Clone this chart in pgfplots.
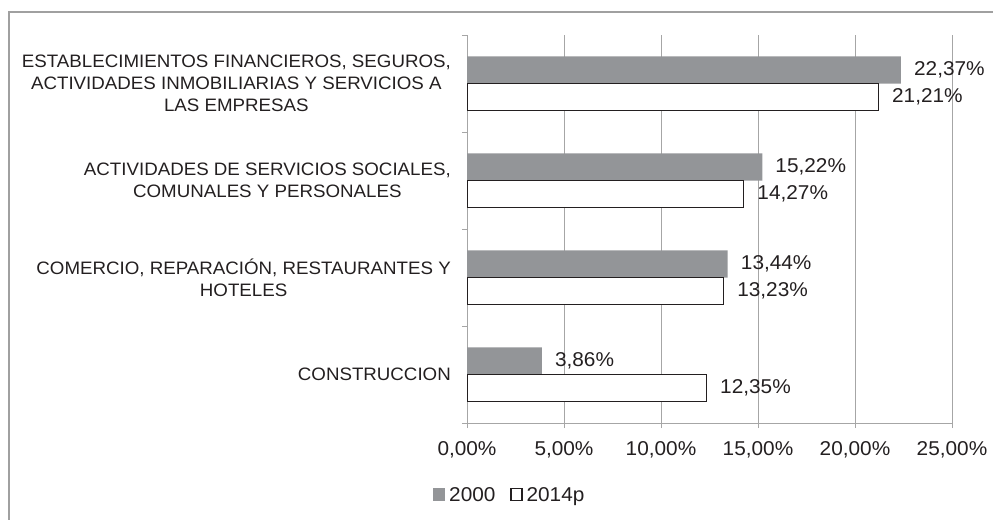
\documentclass[border=0pt]{standalone}
\usepackage{pgfplots}
\pgfplotsset{compat=1.18}
\usepackage{fontspec}
\setmainfont{Liberation Sans}[FakeStretch=1.04]
\definecolor{gridc}{HTML}{A6A6A6}
\definecolor{barc}{HTML}{939598}
\definecolor{edgec}{HTML}{231F20}
\definecolor{framec}{HTML}{A0A0A0}
\definecolor{txt}{HTML}{231F20}
\newcommand\bigf{\fontsize{20bp}{24bp}\selectfont}
\begin{document}
\begin{tikzpicture}[font=\fontsize{18bp}{22bp}\selectfont]
\useasboundingbox (0bp,0bp) rectangle (993bp,-520bp);
\draw[framec, line width=1.5bp] (9bp,-520bp) -- (9bp,-12bp) -- (993bp,-12bp);
\begin{axis}[
  at={(467bp,-423bp)}, anchor=south west,
  scale only axis, width=485bp, height=388bp,
  xmin=0, xmax=25, ymin=-0.5, ymax=3.5,
  xbar, bar width=0.28,
  axis x line*=bottom, axis y line*=left,
  axis line style={draw=gridc, line width=1bp, -},
  xtick={0,5,10,15,20,25},
  xticklabels={{0,00\%},{5,00\%},{10,00\%},{15,00\%},{20,00\%},{25,00\%}},
  xmajorgrids, grid style={gridc, line width=1bp},
  tick align=outside, major tick length=5bp, minor tick length=5bp,
  x tick style={draw=gridc, line width=1bp},
  ytick={0,1,2,3},
  yticklabels={{CONSTRUCCION},{COMERCIO, REPARACIÓN, RESTAURANTES Y\\HOTELES},{ACTIVIDADES DE SERVICIOS SOCIALES,\\COMUNALES Y PERSONALES},{ESTABLECIMIENTOS FINANCIEROS, SEGUROS,\\ACTIVIDADES INMOBILIARIAS Y SERVICIOS A\\LAS EMPRESAS}},
  minor ytick={-0.5,0.5,1.5,2.5,3.5},
  major y tick style={draw=none},
  minor y tick style={draw=gridc, line width=1bp},
  yticklabel style={align=center, inner sep=0pt, anchor=east, xshift=-11bp, text=txt},
  xticklabel style={inner sep=0pt, anchor=base, yshift=-27bp, text=txt, font=\bigf},
  /pgf/number format/assume math mode=true,
  point meta=explicit symbolic,
  nodes near coords,
  every node near coord/.append style={anchor=west, inner sep=0pt, xshift=13bp, text=txt, font=\bigf},
  legend columns=-1,
  legend style={draw=none, fill=none, at={(rel axis cs:-0.0701,-0.185)}, anchor=west, inner sep=0pt,
    /tikz/every even column/.append style={column sep=15bp},
    nodes={inner sep=0pt, text=txt}, font=\bigf},
]
\addplot[xbar, bar shift=0.14, fill=barc, draw=none,
  legend image code/.code={\fill[barc] (0bp,-6.5bp) rectangle (12bp,6.5bp);}]
  coordinates {(3.86,0) [3,86\%] (13.44,1) [13,44\%] (15.22,2) [15,22\%] (22.37,3) [22,37\%]};
\addplot[xbar, bar shift=-0.14, fill=white, draw=edgec, line width=1.3bp,
  legend image code/.code={\draw[fill=white, draw=edgec, line width=1.1bp] (0.5bp,-6bp) rectangle (11.5bp,6bp);}]
  coordinates {(12.35,0) [12,35\%] (13.23,1) [13,23\%] (14.27,2) [14,27\%] (21.21,3) [21,21\%]};
\legend{\hspace{4bp}2000,\hspace{4bp}2014p}
\end{axis}
\end{tikzpicture}
\end{document}
